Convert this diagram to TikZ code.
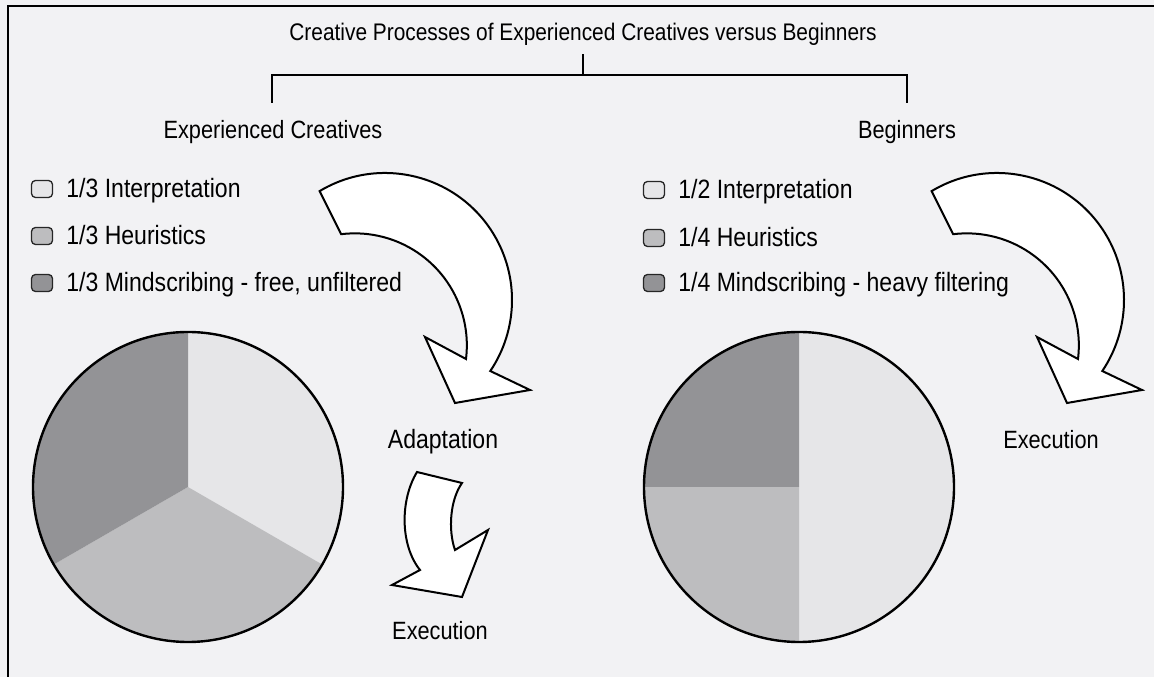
\documentclass[tikz,border=0pt]{standalone}
\usepackage{fontspec}
\setmainfont{Liberation Sans}[FakeStretch=0.87]
\usetikzlibrary{positioning}

\definecolor{paper}{HTML}{F2F2F4}
\definecolor{interp}{HTML}{E6E6E8}
\definecolor{heur}{HTML}{BDBDBF}
\definecolor{mind}{HTML}{939396}

\begin{document}
\begin{tikzpicture}[
    x=1pt, y=1pt,
    every node/.style={font=\fontsize{25}{30}\selectfont, inner sep=0pt},
    txt/.style={text height=18pt, text depth=0pt},
    tree/.style={draw=black, line width=1.8pt},
    key/.style={draw=black!85, line width=1.3pt, rounded corners=4pt,
                minimum width=21pt, minimum height=17pt},
    entry/.style={txt, font=\fontsize{26.5}{30}\selectfont, right=13pt of #1},
    rim/.style={draw=black, line width=2.4pt},
    swoop/.style={draw=black, fill=white, line width=2pt, line join=miter}
  ]
  \fill[paper] (0,0) rectangle (1154,677);
  \useasboundingbox (0,0) rectangle (1154,677);
  \draw[line width=2pt] (8,0) |- (1154,671);

  % headings and the fork between them
  \node[txt, font=\fontsize{24}{30}\selectfont] (title) at (583,645)
    {Creative Processes of Experienced Creatives versus Beginners};
  \node[txt] (expert)   at (273,547) {Experienced Creatives};
  \node[txt] (beginner) at (907,547) {Beginners};

  \coordinate (fork)  at (583,602);
  \coordinate (efoot) at (272,574);
  \coordinate (bfoot) at (907,574);
  \draw[tree, shorten <=13pt] (title.south) -- (fork);
  \draw[tree] (efoot) |- (fork) -| (bfoot);

  % legends
  \node[key, fill=interp] (ekey1) at (42,488) {};
  \node[key, fill=heur]   (ekey2) at (42,441) {};
  \node[key, fill=mind]   (ekey3) at (42,394) {};
  \node[entry=ekey1] {1/3 Interpretation};
  \node[entry=ekey2] {1/3 Heuristics};
  \node[entry=ekey3] {1/3 Mindscribing - free, unfiltered};

  \node[key, fill=interp] (bkey1) at (654,487) {};
  \node[key, fill=heur]   (bkey2) at (654,439) {};
  \node[key, fill=mind]   (bkey3) at (654,394) {};
  \node[entry=bkey1] {1/2 Interpretation};
  \node[entry=bkey2] {1/4 Heuristics};
  \node[entry=bkey3] {1/4 Mindscribing - heavy filtering};

  % pies
  \coordinate (epie) at (188,190);
  \coordinate (bpie) at (799,190);
  \foreach \from/\to/\shade in {90/-30/interp, -30/-150/heur, 210/90/mind}
    \fill[\shade] (epie) -- ++(\from:155pt) arc[start angle=\from, end angle=\to, radius=155pt] -- cycle;
  \foreach \from/\to/\shade in {90/-90/interp, 270/180/heur, 180/90/mind}
    \fill[\shade] (bpie) -- ++(\from:155pt) arc[start angle=\from, end angle=\to, radius=155pt] -- cycle;
  \draw[rim] (epie) circle[radius=155pt];
  \draw[rim] (bpie) circle[radius=155pt];

  % big curved arrows, one per side
  \foreach \dx in {0,612}
    \draw[swoop, xshift=\dx pt] (385,377) ++(121:127pt)
      arc[start angle=121, end angle=-34, radius=127pt]
      -- (530,287) -- (455,274) -- (425,340) -- (466,318)
      arc[start angle=-7, end angle=97, radius=112pt] -- cycle;

  % small arrow from adaptation down to execution
  \draw[swoop] (417,205) .. controls (400,177) and (400,132) .. (420,107)
    -- (392,92) -- (462,80) -- (488,147) -- (455,127)
    .. controls (448,147) and (450,177) .. (462,194) -- cycle;

  \node[txt, font=\fontsize{26.5}{30}\selectfont] (adapt) at (443,237) {Adaptation};
  \node[txt] (eexec) at (440,46)  {Execution};
  \node[txt] (bexec) at (1051,237) {Execution};
\end{tikzpicture}
\end{document}
